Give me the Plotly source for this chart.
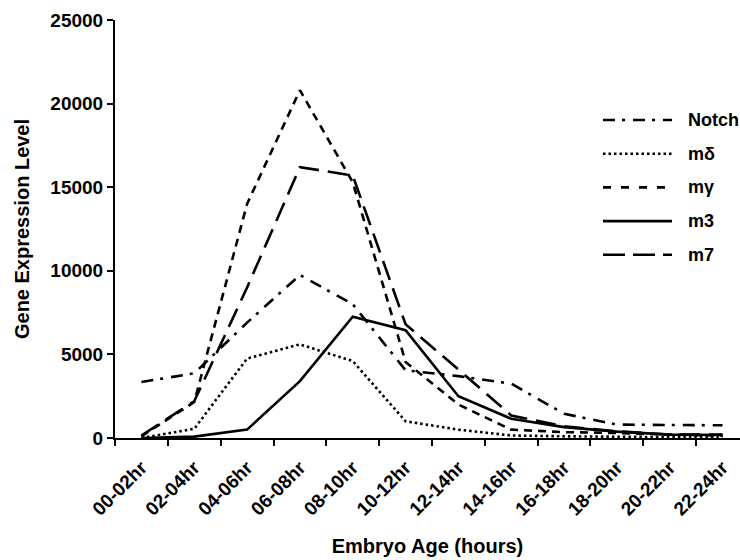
import plotly.graph_objects as go

categories = ["00-02hr", "02-04hr", "04-06hr", "06-08hr", "08-10hr", "10-12hr",
              "12-14hr", "14-16hr", "16-18hr", "18-20hr", "20-22hr", "22-24hr"]

notch = [3350, 3870, 6900, 9750, 8000, 4050, 3700, 3250, 1450, 800, 780, 760]
m_delta = [0, 550, 4750, 5600, 4600, 1000, 500, 150, 100, 80, 50, 30]
m_gamma = [100, 2150, 14000, 20800, 15300, 4550, 2000, 500, 350, 300, 200, 150]
m3 = [0, 80, 500, 3400, 7250, 6450, 2500, 1150, 650, 380, 200, 180]
m7 = [150, 2200, 9000, 16200, 15700, 6800, 4100, 1350, 700, 400, 200, 200]

y_ticks = [0, 5000, 10000, 15000, 20000, 25000]
y_ticktext = ["0", "5000", "10000", "15000", "20000", "25000"]

series_names = ["Notch", "mδ", "mγ", "m3", "m7"]
series_values = [notch, m_delta, m_gamma, m3, m7]
plot_dashes = ["12px,7px,3px,8px", "2.5px,3px", "8px,6px", "solid", "20px,9px"]
legend_dashes = ["12px,7px,3px,8px", "2.5px,3px", "8px,10px", "solid", "22px,8px"]

FONT = "Liberation Sans, Arial, sans-serif"
W, H = 740, 560
L, R, T, B = 115, 0, 20, 122

fig = go.Figure()
for name, vals, dash in zip(series_names, series_values, plot_dashes):
    fig.add_trace(go.Scatter(x=categories, y=vals, mode="lines", name=name,
                             line=dict(color="black", width=2.6, dash=dash),
                             showlegend=False))

pw = W - L - R
ph = H - T - B

def px2paper(px, py):
    return (px - L) / pw, (H - B - py) / ph

# custom legend (long line samples like the reference)
leg_x0, leg_x1, leg_tx = 603, 672, 686
leg_y0, leg_dy = 120, 33.7
for i, (name, dash) in enumerate(zip(series_names, legend_dashes)):
    py = leg_y0 + leg_dy * i
    x0, y0 = px2paper(leg_x0, py)
    x1, _ = px2paper(leg_x1, py)
    xt, _ = px2paper(leg_tx, py)
    fig.add_shape(type="line", xref="paper", yref="paper", x0=x0, x1=x1, y0=y0, y1=y0,
                  line=dict(color="black", width=2.6, dash=dash))
    fig.add_annotation(xref="paper", yref="paper", x=xt, y=y0, text=name,
                       showarrow=False, xanchor="left", yanchor="middle",
                       font=dict(family=FONT, size=18, color="black", weight="bold"))

fig.update_layout(
    width=W, height=H,
    margin=dict(l=L, r=R, t=T, b=B, autoexpand=False),
    paper_bgcolor="white", plot_bgcolor="white",
    font=dict(family=FONT, color="black", size=19, weight="bold"),
    showlegend=False,
)
fig.update_xaxes(
    type="category", range=[-0.5, 11.33], tickson="boundaries",
    showline=True, linecolor="black", linewidth=2,
    ticks="outside", ticklen=6, tickwidth=2, tickcolor="black",
    tickangle=-45, tickfont=dict(family=FONT, size=19, weight="bold"),
    ticklabelstandoff=9,
    showgrid=False, zeroline=False,
    title=dict(text="Embryo Age (hours)", font=dict(family=FONT, size=20, weight="bold"), standoff=20),
)
fig.update_yaxes(
    range=[0, 25000], tickvals=y_ticks, ticktext=y_ticktext,
    showline=True, linecolor="black", linewidth=2,
    ticks="outside", ticklen=6, tickwidth=2, tickcolor="black",
    tickfont=dict(family=FONT, size=19, weight="bold"),
    showgrid=False, zeroline=False,
    title=dict(text="Gene Expression Level", font=dict(family=FONT, size=20, weight="bold"), standoff=15),
)

fig.write_html("out.html")
